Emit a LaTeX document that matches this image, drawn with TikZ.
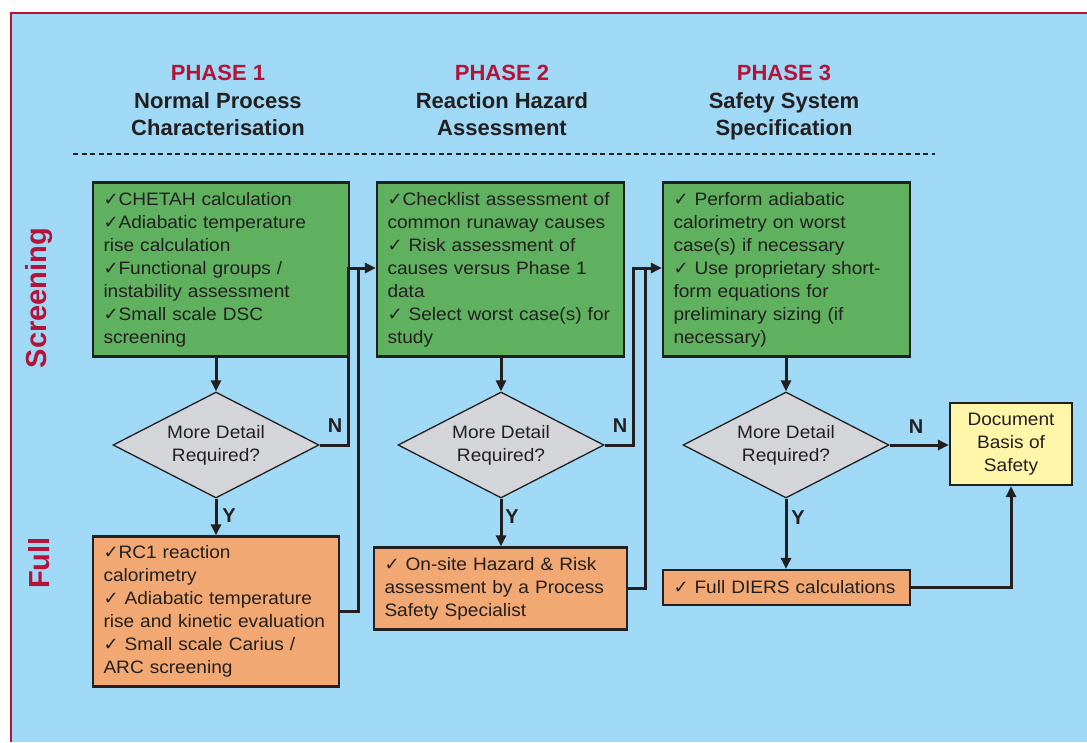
\documentclass[tikz,border=0pt]{standalone}
\usepackage{fontspec}
\setmainfont{Liberation Sans}
\newfontfamily\bodyfont{Liberation Sans}[FakeStretch=1.06]
\newfontfamily\symfont{DejaVu Sans}
\usetikzlibrary{shapes.geometric,arrows.meta}
\definecolor{bgblue}{HTML}{A0D9F5}
\definecolor{framered}{HTML}{B5123A}
\definecolor{ink}{HTML}{231F20}
\definecolor{boxgreen}{HTML}{5FB160}
\definecolor{boxorange}{HTML}{F1A873}
\definecolor{boxyellow}{HTML}{FFF6AA}
\definecolor{diagrey}{HTML}{D4D5D9}
\newcommand{\chk}{{\symfont\fontsize{18}{23}\selectfont ✓}}

\begin{document}
\begin{tikzpicture}[x=1pt,y=-1pt,
  body/.style={text=ink, font=\bodyfont\fontsize{18}{23}\selectfont},
  stepbox/.style={body, draw=ink, line width=2.2pt, rectangle,
    inner xsep=10.5pt, inner ysep=0pt, align=left},
  greenbox/.style={stepbox, fill=boxgreen},
  orangebox/.style={stepbox, fill=boxorange},
  decision/.style={body, shape=diamond, aspect=2, draw=ink, line width=1.3pt,
    fill=diagrey, inner sep=0pt, minimum width=206pt, minimum height=106pt, align=center},
  endbox/.style={body, draw=ink, line width=2.2pt, fill=boxyellow, align=center,
    minimum width=122pt, minimum height=82pt, inner sep=0pt},
  phase/.style={text=framered, font=\bfseries\fontsize{22}{27}\selectfont},
  title/.style={text=ink, font=\bfseries\fontsize{22}{27}\selectfont, align=center},
  side/.style={text=framered, font=\bfseries\fontsize{29}{30}\selectfont, rotate=90},
  yn/.style={text=ink, font=\bfseries\fontsize{20}{22}\selectfont},
  link/.style={draw=ink, line width=3pt},
  flow/.style={link, -{Triangle[length=11pt,width=10pt]}}
]
\useasboundingbox (0,0) rectangle (1087,742);

% panel with red frame on the left and top
\fill[bgblue] (10,12) rectangle (1087,742);
\draw[framered, line width=2.6pt] (10.8,742) -- (10.8,12.8) -- (1087,12.8);

% column headings
\node[phase] (p1) at (218,73) {PHASE 1};
\node[title] (t1) at (218,114) {Normal Process\\Characterisation};
\node[phase] (p2) at (502,73) {PHASE 2};
\node[title] (t2) at (502,114) {Reaction Hazard\\Assessment};
\node[phase] (p3) at (784,73) {PHASE 3};
\node[title] (t3) at (784,116.5) {Safety System\\Specification};

\coordinate (dl) at (73,154);
\coordinate (dr) at (935,154);
\draw[ink, line width=1.3pt, dash pattern=on 5pt off 3.5pt] (dl) -- (dr);

% row labels
\node[side] (scr) at (39,298) {Screening};
\node[side] (full) at (39,563) {Full};

% screening boxes
\node[greenbox, minimum width=256pt, minimum height=174pt, text width=235pt] (g1) at (221,269.5) {%
\chk CHETAH calculation\\
\chk Adiabatic temperature\\
rise calculation\\
\chk Functional groups /\\
instability assessment\\
\chk Small scale DSC\\
screening};

\node[greenbox, minimum width=247pt, minimum height=174pt, text width=226pt] (g2) at (500.5,269.5) {%
\chk Checklist assessment of\\
common runaway causes\\
\chk\ Risk assessment of\\
causes versus Phase 1\\
data\\
\chk\ Select worst case(s) for\\
study};

\node[greenbox, minimum width=247pt, minimum height=174pt, text width=226pt] (g3) at (786.5,269.5) {%
\chk\ Perform adiabatic\\
calorimetry on worst\\
case(s) if necessary\\
\chk\ Use proprietary short-\\
form equations for\\
preliminary sizing (if\\
necessary)};

% decisions
\node[decision] (d1) at (216,445) {More Detail\\Required?};
\node[decision] (d2) at (501,445) {More Detail\\Required?};
\node[decision] (d3) at (786,445) {More Detail\\Required?};

% full-study boxes
\node[orangebox, minimum width=246pt, minimum height=150pt, text width=225pt] (o1) at (216,611.5) {%
\chk RC1 reaction\\
calorimetry\\
\chk\ Adiabatic temperature\\
rise and kinetic evaluation\\
\chk\ Small scale Carius /\\
ARC screening};

\node[orangebox, minimum width=253pt, minimum height=82pt, text width=232pt] (o2) at (500.5,588.5) {%
\chk\ On-site Hazard \& Risk\\
assessment by a Process\\
Safety Specialist};

\node[orangebox, minimum width=247pt, minimum height=35pt, text width=226pt] (o3) at (786.5,587.5) {%
\chk\ Full DIERS calculations};

\node[endbox] (doc) at (1011,444) {Document\\Basis of\\Safety};

% vertical flow
\draw[flow] (g1.south -| d1) -- (d1.north);
\draw[flow] (g2.south -| d2) -- (d2.north);
\draw[flow] (g3.south -| d3) -- (d3.north);
\draw[flow] (d1.south) -- (o1.north -| d1);
\draw[flow] (d2.south) -- (o2.north -| d2);
\draw[flow] (d3.south) -- (o3.north -| d3);

% "N" branches into the next phase
\coordinate (n1a) at (348,445);
\coordinate (n1b) at (348,268);
\coordinate (m1) at (358,268);
\draw[flow] (d1.east) -- (n1a) -- (n1b) -- (g2.west |- n1b);
\draw[link] (o1.east) -| (m1);

\coordinate (n2a) at (633,445);
\coordinate (n2b) at (633,268);
\coordinate (m2) at (645,268);
\draw[flow] (d2.east) -- (n2a) -- (n2b) -- (g3.west |- n2b);
\draw[link] (o2.east) -| (m2);

\draw[flow] (d3.east) -- (doc.west |- d3.east);
\draw[flow] (o3.east) -| (doc.south);

% branch labels
\node[yn] (y1) at (229,516) {Y};
\node[yn] (y2) at (512,517) {Y};
\node[yn] (y3) at (798,518) {Y};
\node[yn] (nl1) at (335,426) {N};
\node[yn] (nl2) at (620,426) {N};
\node[yn] (nl3) at (916,427) {N};
\end{tikzpicture}
\end{document}
